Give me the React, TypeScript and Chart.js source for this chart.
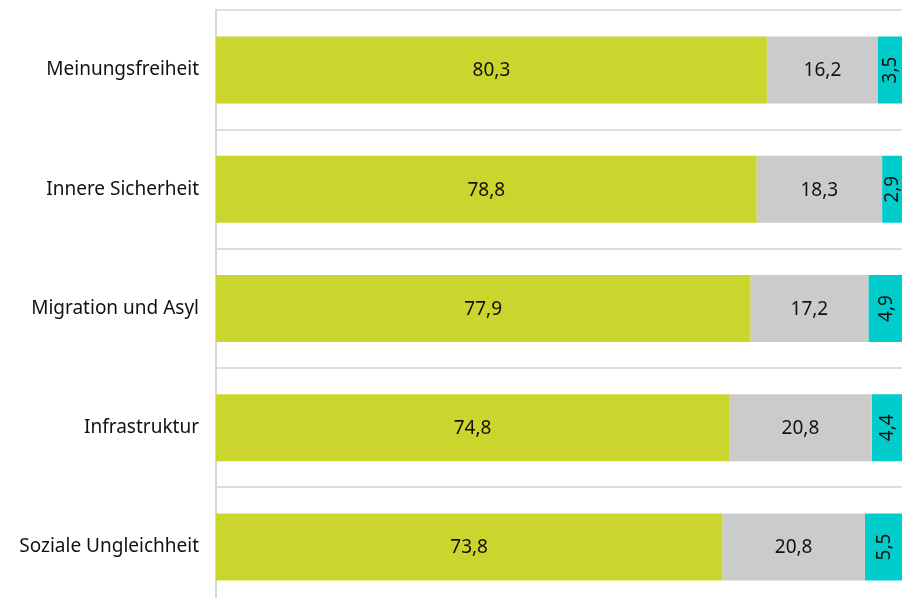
import React, { useEffect, useRef } from "react";
import { Chart, registerables } from "chart.js";

Chart.register(...registerables);

const categories = [
  "Meinungsfreiheit",
  "Innere Sicherheit",
  "Migration und Asyl",
  "Infrastruktur",
  "Soziale Ungleichheit",
];
const seriesA = [80.3, 78.8, 77.9, 74.8, 73.8];
const seriesB = [16.2, 18.3, 17.2, 20.8, 20.8];
const seriesC = [3.5, 2.9, 4.9, 4.4, 5.5];
const seriesNames = ["A", "B", "C"];
const colors = ["#CAD52E", "#CBCBCB", "#00CCCC"];

const FONT = "'Noto Sans', sans-serif";

const fmt = (v: number) => v.toFixed(1).replace(".", ",");

const valueLabels = {
  id: "valueLabels",
  afterDatasetsDraw(chart: any) {
    const ctx = chart.ctx;
    ctx.save();
    ctx.fillStyle = "#111111";
    ctx.font = `19px ${FONT}`;
    ctx.textAlign = "center";
    ctx.textBaseline = "middle";
    chart.data.datasets.forEach((ds: any, di: number) => {
      const meta = chart.getDatasetMeta(di);
      meta.data.forEach((bar: any, i: number) => {
        const v = ds.data[i];
        const x = (bar.x + bar.base) / 2;
        const y = bar.y;
        if (di === 2) {
          ctx.save();
          ctx.translate(x + 1, y);
          ctx.rotate(-Math.PI / 2);
          ctx.fillText(fmt(v), 0, 0);
          ctx.restore();
        } else {
          ctx.fillText(fmt(v), x, y + 1);
        }
      });
    });
    ctx.restore();
  },
};

export default function App() {
  const ref = useRef<HTMLCanvasElement | null>(null);
  useEffect(() => {
    if (!ref.current) return;
    const chart = new Chart(ref.current, {
      type: "bar",
      data: {
        labels: categories,
        datasets: [seriesA, seriesB, seriesC].map((d, i) => ({
          label: seriesNames[i],
          data: d,
          backgroundColor: colors[i],
          borderWidth: 0,
          categoryPercentage: 1,
          barPercentage: 0.562,
        })),
      },
      options: {
        indexAxis: "y",
        animation: false,
        responsive: false,
        maintainAspectRatio: false,
        layout: { padding: { top: 9.5, bottom: 9.5, right: 5, left: 0 } },
        plugins: {
          legend: { display: false },
          tooltip: { enabled: false },
        },
        scales: {
          x: {
            stacked: true,
            min: 0,
            max: 100,
            display: false,
          },
          y: {
            stacked: true,
            grid: {
              display: true,
              offset: true,
              color: "#dedede",
              lineWidth: 2,
              drawTicks: false,
            },
            border: { display: true, color: "#d6d6d6", width: 2 },
            ticks: {
              color: "#111111",
              font: { family: FONT, size: 19 },
              padding: 17,
            },
            afterFit(scale: any) {
              scale.width = 216;
            },
          },
        },
      },
      plugins: [valueLabels],
    } as any);
    return () => chart.destroy();
  }, []);
  return (
    <div
      style={{
        position: "fixed",
        left: 0,
        top: 0,
        width: 907,
        height: 598,
        overflow: "hidden",
        background: "#fff",
      }}
    >
      <canvas
        ref={ref}
        width={907}
        height={653}
        style={{ display: "block", position: "absolute", left: 0, top: -18.5 }}
      />
    </div>
  );
}
